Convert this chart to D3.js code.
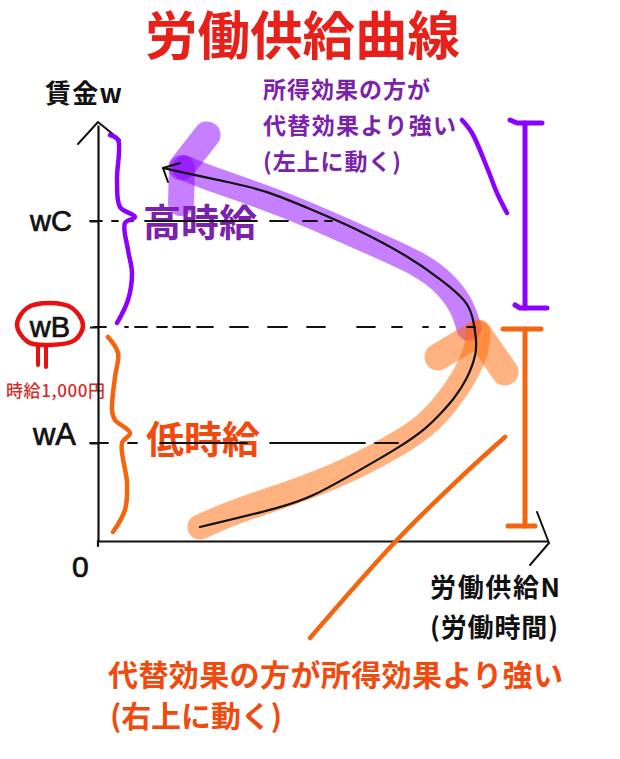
<!DOCTYPE html>
<html><head><meta charset="utf-8">
<script src="https://cdnjs.cloudflare.com/ajax/libs/d3/7.8.5/d3.min.js"></script>
<style>html,body{margin:0;background:#fff}svg{display:block}text{font-family:"Noto Sans CJK JP",sans-serif;font-weight:700}</style>
</head><body><svg id="c" width="620" height="759"></svg>
<script>
const supplyCurve=[[13,93.25],[16.4,92.25],[27,89.5],[33.8,87.5],[42.4,83],[51,78.5],[62.4,71],[69,65],[73.8,60],[75,56],[75.6,51],[75.8,47],[73.8,40.25],[71,35.25],[69,32.5],[65.8,28.25],[60.4,23.5],[52.4,17.75],[42.4,10.75],[37,8.5],[20.4,3.5]];
const curveArrow=[[16.4,94.5],[13,93.25],[14,89.75]];
const purpleBand=[[17.4,93.25],[20.4,91.5],[33.8,85.75],[42.4,81.5],[55.8,74],[64.4,69.25],[69.5,64.5],[73,58.5],[74.2,53.25]];
const purpleArmUp=[[21.8,101.5],[16.8,93.5]];
const purpleArmDown=[[16.8,93.25],[16.6,84.5]];
const orangeBand=[[20.4,3.5],[27,7.25],[42.4,13.5],[52.4,19],[60.4,24.5],[66.4,29.5],[71.8,37.75],[75.8,47],[76,52]];
const orangeArrow=[[68,46],[76,52],[81.4,42.25]];
const purpleBrace=[[2.4,101.5],[4,100.25],[3.8,90.25],[4.4,83.5],[7.4,81],[5.4,79.5],[6,72.75],[6.8,67],[6,60.25],[3.8,54.5]];
const orangeBrace=[[2,51],[4,47],[3.4,41],[2.8,32.75],[3.4,30.25],[6.4,27],[4.8,24.5],[5.8,14.5],[5.4,7.75],[3,2.25]];
const purpleLeader=[[72.8,105.25],[74.8,102],[78,92.75],[79.8,87],[81.8,82]];
const orangeLeader=[[81.4,26],[72.4,15.75],[59.8,.25],[42.4,-24.25]];
const purpleBars=[[[85.4,104.5],[85.4,58.25]],[[82.4,105.25],[83.8,104.5],[88.8,104.5]],[[83.4,59],[84.4,58.25],[89.8,58.25]]];
const orangeBars=[[[85.4,53],[85.4,3.75]],[[81,53],[88.6,53]],[[82,3.75],[87.4,3.75]]];
const wageTicks=[24.5,53.5,80];
const wageLabels=["wA","wB","wC"];
const dashA=[[-1.6,2],[6,7.8],[12.4,29.8],[34.4,53.4],[55.4,60]];
const dashB=[[-.8,1.6],[5.4,6],[7.4,9.8],[11.8,13.8],[15,18.4],[19.8,23],[26.4,30],[34,37.8],[41.8,45.4],[51.8,55.4],[58.8,60.8],[65,66],[68.4,69.4],[73.8,75.4]];
const dashC=[[-1.6,.8],[2.8,4],[6,7],[9.4,31.8],[34.4,38],[41,43.8],[45.4,46.8]];
const redBlob=[[-16.2,54],[-14.2,58.25],[-9.6,59.5],[-5.2,58.25],[-3,54],[-4.6,50.25],[-9.6,49],[-14,49.75]];
const redLegs=[[[-12,48.5],[-12,44]],[[-10.4,48.5],[-10.4,43.5]]];
const yArrow=[[-4,99.25],[0,104.75],[4.4,100.25]];
const xArrow=[[87.8,7.25],[90.2,-.5],[86.4,-6]];
const yStub=[[0,0],[0,-1.25]];

const svg=d3.select("#c");
const x=d3.scaleLinear().domain([0,90]).range([98,548]);
const y=d3.scaleLinear().domain([0,104]).range([541,125]);
const line=d3.line().x(d=>x(d[0])).y(d=>y(d[1]));
const smooth=d3.line().x(d=>x(d[0])).y(d=>y(d[1])).curve(d3.curveCatmullRom);
const soft=d3.line().x(d=>x(d[0])).y(d=>y(d[1])).curve(d3.curveBasis);
const blob=d3.line().x(d=>x(d[0])).y(d=>y(d[1])).curve(d3.curveCatmullRomClosed);
function draw(gen,pts,color,w,op){return svg.append("path").attr("d",gen(pts)).attr("fill","none").attr("stroke",color).attr("stroke-width",w).attr("stroke-linecap","round").attr("stroke-linejoin","round").attr("stroke-opacity",op==null?1:op);}
function txt(s,px,py,size,color,extra){const t=svg.append("text").attr("x",px).attr("y",py).attr("font-size",size).attr("fill",color).text(s);if(extra)t.attr("textLength",extra).attr("lengthAdjust","spacing");return t;}

const PURPLE="#8b00ff",ORANGE="#ff6600",TXTP="#7a22ab",TXTO="#f04a0e",BLACK="#111";

draw(soft,purpleBand,PURPLE,25,.5);
draw(line,purpleArmDown,PURPLE,26,.5);
draw(line,purpleArmUp,PURPLE,27,.5);
draw(soft,orangeBand,ORANGE,25,.5);
draw(line,orangeArrow,ORANGE,27,.5);

txt("労働供給曲線",145,55,52.5,"#e8201a");
txt("賃金w",45,103,26,BLACK,77);
txt("所得効果の方が",263,98,23,TXTP,167);
txt("代替効果より強い",263,134,23,TXTP,193);
txt("(左上に動く)",263,170,23,TXTP,138);
txt("高時給",143,236,38,TXTP);
txt("低時給",146,453,38,TXTO);
txt("労働供給N",430,597,26,BLACK,130);
txt("(労働時間)",430,637,26,BLACK,128);
txt("代替効果の方が所得効果より強い",108,686,30,TXTO,455);
txt("(右上に動く)",110,727,30,TXTO,172);
txt("時給1,000円",6,397,17,"#d42c2c",99).style("font-weight",500);
txt("0",72,577,30,BLACK).style("font-family","'Liberation Sans',sans-serif").style("font-weight",400).attr("stroke",BLACK).attr("stroke-width",.7);

const yAxis=svg.append("g").attr("transform",`translate(${x(0)},0)`).call(d3.axisLeft(y).tickValues(wageTicks).tickFormat((d,i)=>wageLabels[i]).tickSize(8).tickPadding(18).tickSizeOuter(0));
yAxis.select(".domain").attr("stroke",BLACK).attr("stroke-width",2.2);
yAxis.selectAll(".tick line").attr("stroke",BLACK).attr("stroke-width",2);
yAxis.selectAll(".tick text").attr("fill",BLACK).attr("stroke",BLACK).attr("stroke-width",.7).attr("font-size",(d,i)=>[31,29,29][i]).style("font-family","'Liberation Sans',sans-serif").style("font-weight",400)
  .attr("dy",(d,i)=>[".06em",".32em",".34em"][i]).attr("dx",(d,i)=>[4,-2,0][i]);
const xAxis=svg.append("g").attr("transform",`translate(0,${y(0)})`).call(d3.axisBottom(x).tickValues([]).tickSizeOuter(0));
xAxis.select(".domain").attr("stroke",BLACK).attr("stroke-width",2.2);
draw(line,yStub,BLACK,2.2);
draw(line,yArrow,BLACK,2);
draw(line,xArrow,BLACK,2);

[[dashA,wageTicks[0]],[dashB,wageTicks[1]],[dashC,wageTicks[2]]].forEach(([segs,w])=>segs.forEach(s=>draw(line,[[s[0],w],[s[1],w]],BLACK,1.8)));

draw(soft,supplyCurve,BLACK,2.2);
draw(line,curveArrow,BLACK,2);
draw(smooth,purpleBrace,PURPLE,4.5);
draw(smooth,orangeBrace,"#f5640f",4.5);
draw(smooth,purpleLeader,PURPLE,4.5);
draw(smooth,orangeLeader,"#f5640f",4.5);
purpleBars.forEach(b=>draw(line,b,PURPLE,5));
orangeBars.forEach(b=>draw(line,b,"#f5640f",5));
draw(blob,redBlob,"#e81010",4.5);
redLegs.forEach(b=>draw(line,b,"#e81010",4));
</script></body></html>
